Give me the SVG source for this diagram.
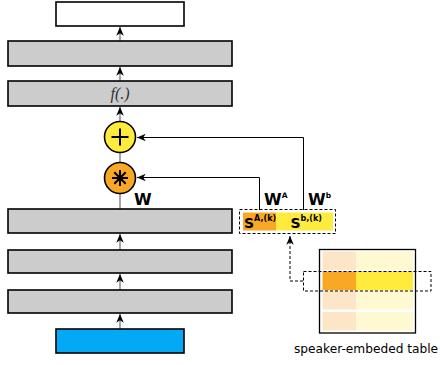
<svg xmlns="http://www.w3.org/2000/svg" width="440" height="365" viewBox="0 0 440 365">
<style>
.layer{fill:#cccccc;stroke:#000;stroke-width:1.6}
.main{stroke:#777;stroke-width:1.3;fill:none}
.conn{stroke:#000;stroke-width:1;fill:none}
.dash{stroke:#000;stroke-width:1;fill:none;stroke-dasharray:3,2}
.bw{font-family:"DejaVu Sans",sans-serif;font-weight:bold;fill:#000}
.lbl{font-family:"DejaVu Sans",sans-serif;font-size:12.2px;fill:#000}
</style>
<defs>
<marker id="ah" markerUnits="userSpaceOnUse" markerWidth="10" markerHeight="10" refX="0" refY="0" viewBox="-7 -4 8 8" orient="auto" overflow="visible">
<path d="M0,0 L-7,-3 L-5,0 L-7,3 Z" fill="#000"/>
</marker>
</defs>
<rect width="440" height="365" fill="#fff"/>
<g id="connectors">
<line class="main" x1="120" y1="329" x2="120" y2="314" marker-end="url(#ah)"/>
<line class="main" x1="120" y1="290" x2="120" y2="274" marker-end="url(#ah)"/>
<line class="main" x1="120" y1="250" x2="120" y2="234" marker-end="url(#ah)"/>
<line class="main" x1="120" y1="209" x2="120" y2="193.5"/>
<line class="main" x1="120" y1="162.5" x2="120" y2="152.5"/>
<line class="main" x1="120" y1="121.5" x2="120" y2="107" marker-end="url(#ah)"/>
<line class="main" x1="120" y1="81" x2="120" y2="67" marker-end="url(#ah)"/>
<line class="main" x1="120" y1="41" x2="120" y2="27" marker-end="url(#ah)"/>
<polyline class="conn" points="259.5,210 259.5,177.5 137,177.5" marker-end="url(#ah)"/>
<polyline class="conn" points="303.5,210 303.5,137.5 137,137.5" marker-end="url(#ah)"/>
<polyline class="dash" points="303,281 290,281 290,236" marker-end="url(#ah)"/>
</g>
<g id="output"><rect x="56" y="2" width="128" height="24" fill="#fff" stroke="#000" stroke-width="1.6"/></g>
<g id="layer6"><rect class="layer" x="8" y="41" width="224" height="25"/></g>
<g id="layer5"><rect class="layer" x="8" y="81" width="224" height="25"/>
<text x="120" y="99" text-anchor="middle" font-family="Liberation Serif,serif" font-style="italic" font-size="16" fill="#333">f(.)</text></g>
<g id="plus"><circle cx="120" cy="137" r="15.5" fill="#ffeb3b" stroke="#000" stroke-width="1.6"/>
<path d="M111.5,137 H128.5 M120,128.5 V145.5" stroke="#000" stroke-width="2"/></g>
<g id="star"><circle cx="120" cy="178" r="15.5" fill="#f9a825" stroke="#000" stroke-width="1.6"/>
<path d="M120,170 V186 M112,178 H128 M114.3,172.3 L125.7,183.7 M125.7,172.3 L114.3,183.7" stroke="#000" stroke-width="2"/></g>
<g id="layer3"><rect class="layer" x="8" y="209" width="224" height="24"/>
<text class="bw" x="134" y="205" font-size="16">W</text></g>
<g id="layer2"><rect class="layer" x="8" y="250" width="224" height="23"/></g>
<g id="layer1"><rect class="layer" x="8" y="290" width="224" height="23"/></g>
<g id="input"><rect x="56" y="329" width="128" height="24" fill="#03a9f4" stroke="#000" stroke-width="1.6"/></g>
<g id="speaker-vector">
<rect x="243" y="212.5" width="33" height="18" fill="#f9a825"/>
<rect x="276" y="212.5" width="57" height="18" fill="#ffeb3b"/>
<rect class="dash" x="239.5" y="209.5" width="96" height="24"/>
<text class="bw" x="244" y="227.5" font-size="14">S<tspan font-size="8" dy="-7">A,(k)</tspan></text>
<text class="bw" x="290.5" y="227.5" font-size="14">S<tspan font-size="8" dy="-7">b,(k)</tspan></text>
<text class="bw" x="264" y="205" font-size="16">W<tspan font-size="7.5" dy="-7">A</tspan></text>
<text class="bw" x="308" y="205" font-size="16">W<tspan font-size="7.5" dy="-7">b</tspan></text>
</g>
<g id="table">
<rect x="319.5" y="249.5" width="96" height="83.5" fill="#fff" stroke="#000" stroke-width="1.3"/>
<rect x="322.5" y="251.5" width="33.5" height="18.5" fill="#fde6c8"/>
<rect x="356" y="251.5" width="57" height="18.5" fill="#fef9d0"/>
<rect x="322.5" y="271.5" width="33.5" height="18.5" fill="#f9a825"/>
<rect x="356" y="271.5" width="57" height="18.5" fill="#ffeb3b"/>
<rect x="322.5" y="290" width="33.5" height="19.5" fill="#fde6c8"/>
<rect x="356" y="290" width="57" height="19.5" fill="#fef9d0"/>
<rect x="322.5" y="312" width="33.5" height="18.5" fill="#fde6c8"/>
<rect x="356" y="312" width="57" height="18.5" fill="#fef9d0"/>
<rect class="dash" x="303.5" y="271.5" width="127.5" height="19.5"/>
<text class="lbl" x="294" y="352.5">speaker-embeded table</text>
</g>
</svg>
